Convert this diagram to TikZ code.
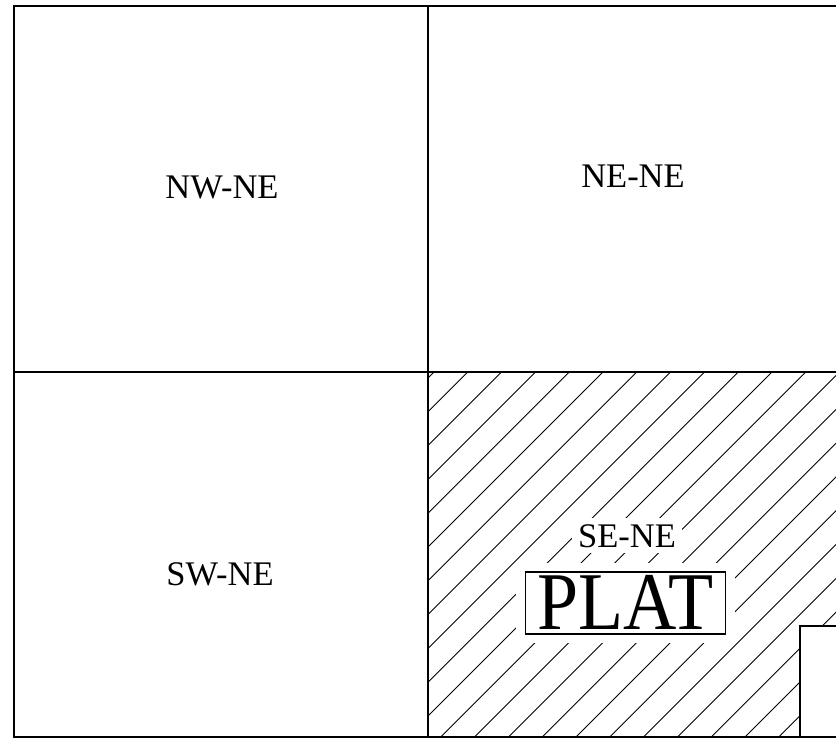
\documentclass[tikz,border=0pt]{standalone}
\usepackage{fontspec}
\setmainfont{Liberation Serif}
\newfontfamily\platfont[FakeStretch=0.9]{Liberation Serif}
\usetikzlibrary{positioning}

\begin{document}
\begin{tikzpicture}[
  x=1pt, y=-1pt,
  frame/.style={draw=black, line width=1.8pt},
  divider/.style={draw=black, line width=1.5pt},
  hatch/.style={draw=black, line width=0.9pt},
  qlabel/.style={font=\fontsize{34.5}{38}\selectfont, anchor=base, inner sep=0pt},
  selabel/.style={qlabel, fill=white, inner sep=6pt},
  platbox/.style={draw=black, line width=1.2pt, fill=white, inner xsep=12pt, inner ysep=5pt,
                  text height=52pt, text depth=0pt, font=\platfont\fontsize{82}{84}\selectfont,
                  preaction={draw=white, line width=18pt}},
  lot/.style={draw=black, fill=white, line width=1.5pt}
]
\useasboundingbox (0,0) rectangle (836,739);
% ---- hatched quarter (SE) ----
\begin{scope}
  \clip (428,372) rectangle (880,737);
  \foreach \k in {0,...,24}
    \draw[hatch] ({806+33.8*\k-372},372) -- ({806+33.8*\k-737},737);
\end{scope}
% small lot, lower right
\draw[lot] (800,626) rectangle (880,737);
% ---- frame and quarter lines ----
\coordinate (nw) at (14,6);
\coordinate (se) at (880,737);
\coordinate (midtop) at (428,6);
\coordinate (midbot) at (428,737);
\coordinate (midleft) at (14,372);
\coordinate (midright) at (880,372);
\draw[frame] (nw) rectangle (se);
\draw[divider] (midtop) -- (midbot);
\draw[divider] (midleft) -- (midright);
% ---- quarter labels ----
\node[qlabel] (nwne) at (222,198) {NW-NE};
\node[qlabel] (nene) at (633,187) {NE-NE};
\node[qlabel] (swne) at (220,585) {SW-NE};
\node[selabel] (sene) at (627,547) {SE-NE};
\node[platbox] (plat) at (625.5,603) {PLAT};
\end{tikzpicture}
\end{document}
